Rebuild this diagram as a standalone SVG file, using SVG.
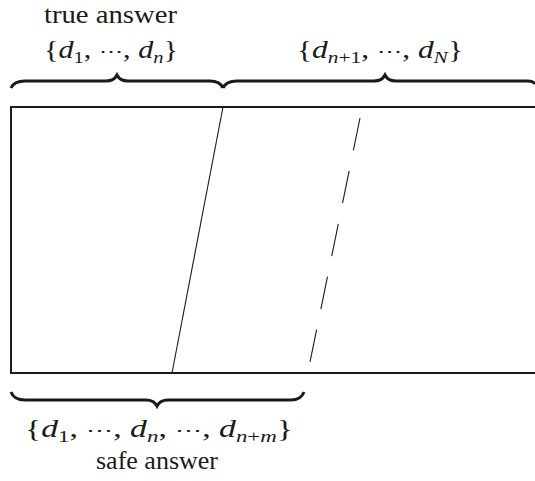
<svg xmlns="http://www.w3.org/2000/svg" width="535" height="481" viewBox="0 0 535 481">
<style>
.t{font-family:"Liberation Serif","Times New Roman",serif;font-size:26px;fill:#1a1a1a}
.m{font-family:"Liberation Serif","Times New Roman",serif;font-size:25px;fill:#1a1a1a}
.i{font-style:italic}
.s{font-size:17px}
.c{font-family:"DejaVu Serif","Liberation Serif",serif;font-size:20px}
.br{fill:none;stroke:#1a1a1a;stroke-width:3;stroke-linecap:butt}
.box{fill:none;stroke:#1a1a1a;stroke-width:2}
.ln{fill:none;stroke:#1a1a1a;stroke-width:1.1}
</style>
<rect width="535" height="481" fill="#ffffff"/>
<g id="frame">
<path class="box" d="M535,107 H11 V373 H535"/>
</g>
<g id="connectors">
<line class="ln" x1="223" y1="107" x2="172" y2="373"/>
<line class="ln" x1="360" y1="118" x2="310" y2="362" stroke-dasharray="33 21"/>
</g>
<g id="brace-true">
<path class="br" d="M11,88 Q14,81 25,81 H106 Q114,81 117,75 Q120,81 128,81 H210 Q220,81 223,88"/>
<text class="t" x="44" y="23" textLength="133" lengthAdjust="spacingAndGlyphs">true answer</text>
<text class="m" x="44" y="58" textLength="134" lengthAdjust="spacingAndGlyphs">{<tspan class="i">d</tspan><tspan class="s" dy="5">1</tspan><tspan dy="-5">, </tspan><tspan class="c">⋯</tspan>, <tspan class="i">d</tspan><tspan class="s i" dy="5">n</tspan><tspan dy="-5">}</tspan></text>
</g>
<g id="brace-rest">
<path class="br" d="M223,88 Q226,81 237,81 H374 Q382,81 385,75 Q388,81 396,81 H528 Q533,81 535,84"/>
<text class="m" x="297" y="58" textLength="166" lengthAdjust="spacingAndGlyphs">{<tspan class="i">d</tspan><tspan class="s" dy="5"><tspan class="i">n</tspan>+1</tspan><tspan dy="-5">, </tspan><tspan class="c">⋯</tspan>, <tspan class="i">d</tspan><tspan class="s i" dy="5">N</tspan><tspan dy="-5">}</tspan></text>
</g>
<g id="brace-safe">
<path class="br" d="M11,392 Q14,400 25,400 H146 Q154,400 157,406 Q160,400 168,400 H291 Q301,400 304,392"/>
<text class="m" x="25" y="437" textLength="268" lengthAdjust="spacingAndGlyphs">{<tspan class="i">d</tspan><tspan class="s" dy="5">1</tspan><tspan dy="-5">, </tspan><tspan class="c">⋯</tspan>, <tspan class="i">d</tspan><tspan class="s i" dy="5">n</tspan><tspan dy="-5">, </tspan><tspan class="c">⋯</tspan>, <tspan class="i">d</tspan><tspan class="s" dy="5"><tspan class="i">n</tspan>+<tspan class="i">m</tspan></tspan><tspan dy="-5">}</tspan></text>
<text class="t" x="96" y="469" textLength="122" lengthAdjust="spacingAndGlyphs">safe answer</text>
</g>
</svg>
